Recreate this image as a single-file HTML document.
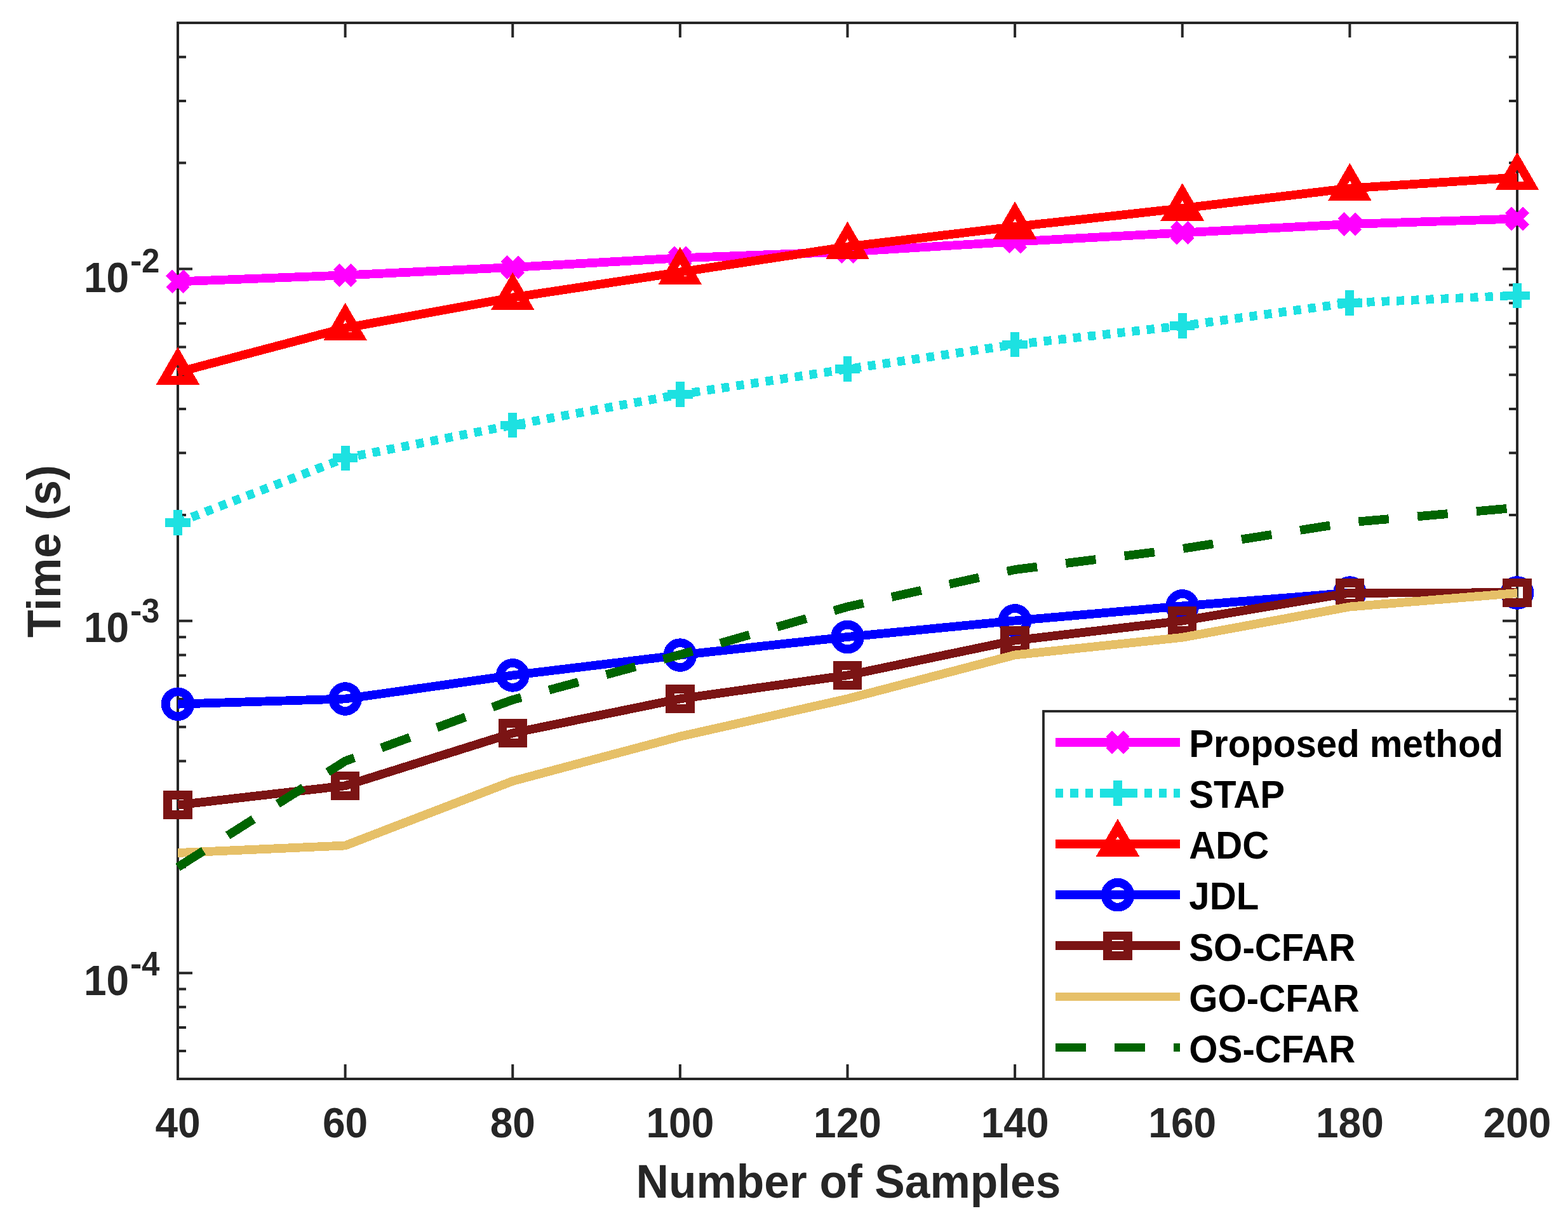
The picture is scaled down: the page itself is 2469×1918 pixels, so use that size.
<!DOCTYPE html><html><head><meta charset="utf-8"><title>Time vs Number of Samples</title><style>html,body{margin:0;padding:0;background:#fff;}svg{display:block;}text{font-family:"Liberation Sans",Arial,Helvetica,sans-serif;font-weight:bold;}</style></head><body>
<svg width="2469" height="1918" viewBox="0 0 2469 1918">
<rect x="0" y="0" width="2469" height="1918" fill="#fff"/>
<path d="M280.00 1699V1676M280.00 36V59M543.62 1699V1676M543.62 36V59M807.25 1699V1676M807.25 36V59M1070.88 1699V1676M1070.88 36V59M1334.50 1699V1676M1334.50 36V59M1598.12 1699V1676M1598.12 36V59M1861.75 1699V1676M1861.75 36V59M2125.38 1699V1676M2125.38 36V59M2389.00 1699V1676M2389.00 36V59M280 1699.00H293M2389 1699.00H2376M280 1655.11H293M2389 1655.11H2376M280 1618.00H293M2389 1618.00H2376M280 1585.85H293M2389 1585.85H2376M280 1557.49H293M2389 1557.49H2376M280 1532.13H303M2389 1532.13H2366M280 1365.26H293M2389 1365.26H2376M280 1267.64H293M2389 1267.64H2376M280 1198.39H293M2389 1198.39H2376M280 1144.67H293M2389 1144.67H2376M280 1100.77H293M2389 1100.77H2376M280 1063.66H293M2389 1063.66H2376M280 1031.52H293M2389 1031.52H2376M280 1003.16H293M2389 1003.16H2376M280 977.80H303M2389 977.80H2366M280 810.92H293M2389 810.92H2376M280 713.31H293M2389 713.31H2376M280 644.05H293M2389 644.05H2376M280 590.33H293M2389 590.33H2376M280 546.44H293M2389 546.44H2376M280 509.33H293M2389 509.33H2376M280 477.18H293M2389 477.18H2376M280 448.83H293M2389 448.83H2376M280 423.46H303M2389 423.46H2366M280 256.59H293M2389 256.59H2376M280 158.98H293M2389 158.98H2376M280 89.72H293M2389 89.72H2376M280 36.00H293M2389 36.00H2376" stroke="#262626" stroke-width="4" fill="none"/>
<rect x="280" y="36" width="2109" height="1663" stroke="#262626" stroke-width="4" fill="none"/>
<text transform="translate(280.00 1790.5) scale(1 1.044)" text-anchor="middle" font-size="64" fill="#262626">40</text>
<text transform="translate(543.62 1790.5) scale(1 1.044)" text-anchor="middle" font-size="64" fill="#262626">60</text>
<text transform="translate(807.25 1790.5) scale(1 1.044)" text-anchor="middle" font-size="64" fill="#262626">80</text>
<text transform="translate(1070.88 1790.5) scale(1 1.044)" text-anchor="middle" font-size="64" fill="#262626">100</text>
<text transform="translate(1334.50 1790.5) scale(1 1.044)" text-anchor="middle" font-size="64" fill="#262626">120</text>
<text transform="translate(1598.12 1790.5) scale(1 1.044)" text-anchor="middle" font-size="64" fill="#262626">140</text>
<text transform="translate(1861.75 1790.5) scale(1 1.044)" text-anchor="middle" font-size="64" fill="#262626">160</text>
<text transform="translate(2125.38 1790.5) scale(1 1.044)" text-anchor="middle" font-size="64" fill="#262626">180</text>
<text transform="translate(2389.00 1790.5) scale(1 1.044)" text-anchor="middle" font-size="64" fill="#262626">200</text>
<text transform="translate(132 459.86) scale(1 1.044)" font-size="64" fill="#262626">10</text>
<text transform="translate(205.1 428.86) scale(1.08 1.044)" font-size="51" fill="#262626">-</text>
<text transform="translate(223.1 428.86) scale(1 1.044)" font-size="51" fill="#262626">2</text>
<text transform="translate(132 1011.00) scale(1 1.044)" font-size="64" fill="#262626">10</text>
<text transform="translate(205.1 980.00) scale(1.08 1.044)" font-size="51" fill="#262626">-</text>
<text transform="translate(223.1 980.00) scale(1 1.044)" font-size="51" fill="#262626">3</text>
<text transform="translate(132 1566.73) scale(1 1.044)" font-size="64" fill="#262626">10</text>
<text transform="translate(205.1 1535.73) scale(1.08 1.044)" font-size="51" fill="#262626">-</text>
<text transform="translate(223.1 1535.73) scale(1 1.044)" font-size="51" fill="#262626">4</text>
<text transform="translate(1001.6 1886.2) scale(1 1.05)" font-size="71.2" fill="#262626">Number of Samples</text>
<text transform="translate(94.9 1004.1) rotate(-90) scale(1 1.05)" font-size="71.2" fill="#262626">Time (s)</text>
<g shape-rendering="crispEdges">
<polyline points="280.00,443.40 543.62,433.40 807.25,421.00 1070.88,406.30 1334.50,396.50 1598.12,380.50 1861.75,366.50 2125.38,353.00 2389.00,344.50" fill="none" stroke="#ff00ff" stroke-width="13.8" stroke-linejoin="miter" stroke-linecap="butt" />
<path d="M266.20 429.60L293.80 457.20M266.20 457.20L293.80 429.60" stroke="#ff00ff" stroke-width="13.8" fill="none"/>
<path d="M529.83 419.60L557.42 447.20M529.83 447.20L557.42 419.60" stroke="#ff00ff" stroke-width="13.8" fill="none"/>
<path d="M793.45 407.20L821.05 434.80M793.45 434.80L821.05 407.20" stroke="#ff00ff" stroke-width="13.8" fill="none"/>
<path d="M1057.08 392.50L1084.67 420.10M1057.08 420.10L1084.67 392.50" stroke="#ff00ff" stroke-width="13.8" fill="none"/>
<path d="M1320.70 382.70L1348.30 410.30M1320.70 410.30L1348.30 382.70" stroke="#ff00ff" stroke-width="13.8" fill="none"/>
<path d="M1584.33 366.70L1611.92 394.30M1584.33 394.30L1611.92 366.70" stroke="#ff00ff" stroke-width="13.8" fill="none"/>
<path d="M1847.95 352.70L1875.55 380.30M1847.95 380.30L1875.55 352.70" stroke="#ff00ff" stroke-width="13.8" fill="none"/>
<path d="M2111.57 339.20L2139.18 366.80M2111.57 366.80L2139.18 339.20" stroke="#ff00ff" stroke-width="13.8" fill="none"/>
<path d="M2375.20 330.70L2402.80 358.30M2375.20 358.30L2402.80 330.70" stroke="#ff00ff" stroke-width="13.8" fill="none"/>
<polyline points="280.00,822.80 543.62,721.30 807.25,669.40 1070.88,621.00 1334.50,581.10 1598.12,542.50 1861.75,513.00 2125.38,477.00 2389.00,465.40" fill="none" stroke="#1de1e1" stroke-width="13.8" stroke-linejoin="miter" stroke-linecap="butt" stroke-dasharray="12.2 11.1"/>
<path d="M260.30 822.80H299.70M280.00 803.10V842.50" stroke="#1de1e1" stroke-width="13.8" fill="none"/>
<path d="M523.92 721.30H563.33M543.62 701.60V741.00" stroke="#1de1e1" stroke-width="13.8" fill="none"/>
<path d="M787.55 669.40H826.95M807.25 649.70V689.10" stroke="#1de1e1" stroke-width="13.8" fill="none"/>
<path d="M1051.17 621.00H1090.58M1070.88 601.30V640.70" stroke="#1de1e1" stroke-width="13.8" fill="none"/>
<path d="M1314.80 581.10H1354.20M1334.50 561.40V600.80" stroke="#1de1e1" stroke-width="13.8" fill="none"/>
<path d="M1578.42 542.50H1617.83M1598.12 522.80V562.20" stroke="#1de1e1" stroke-width="13.8" fill="none"/>
<path d="M1842.05 513.00H1881.45M1861.75 493.30V532.70" stroke="#1de1e1" stroke-width="13.8" fill="none"/>
<path d="M2105.68 477.00H2145.07M2125.38 457.30V496.70" stroke="#1de1e1" stroke-width="13.8" fill="none"/>
<path d="M2369.30 465.40H2408.70M2389.00 445.70V485.10" stroke="#1de1e1" stroke-width="13.8" fill="none"/>
<polyline points="280.00,586.20 543.62,516.50 807.25,468.50 1070.88,428.50 1334.50,388.50 1598.12,357.00 1861.75,328.00 2125.38,296.50 2389.00,279.50" fill="none" stroke="#ff0000" stroke-width="13.8" stroke-linejoin="miter" stroke-linecap="butt" />
<path d="M280.00 560.20L302.52 599.20L257.48 599.20Z" stroke="#ff0000" stroke-width="13.8" fill="none" stroke-linejoin="miter"/>
<path d="M543.62 490.50L566.14 529.50L521.11 529.50Z" stroke="#ff0000" stroke-width="13.8" fill="none" stroke-linejoin="miter"/>
<path d="M807.25 442.50L829.77 481.50L784.73 481.50Z" stroke="#ff0000" stroke-width="13.8" fill="none" stroke-linejoin="miter"/>
<path d="M1070.88 402.50L1093.39 441.50L1048.36 441.50Z" stroke="#ff0000" stroke-width="13.8" fill="none" stroke-linejoin="miter"/>
<path d="M1334.50 362.50L1357.02 401.50L1311.98 401.50Z" stroke="#ff0000" stroke-width="13.8" fill="none" stroke-linejoin="miter"/>
<path d="M1598.12 331.00L1620.64 370.00L1575.61 370.00Z" stroke="#ff0000" stroke-width="13.8" fill="none" stroke-linejoin="miter"/>
<path d="M1861.75 302.00L1884.27 341.00L1839.23 341.00Z" stroke="#ff0000" stroke-width="13.8" fill="none" stroke-linejoin="miter"/>
<path d="M2125.38 270.50L2147.89 309.50L2102.86 309.50Z" stroke="#ff0000" stroke-width="13.8" fill="none" stroke-linejoin="miter"/>
<path d="M2389.00 253.50L2411.52 292.50L2366.48 292.50Z" stroke="#ff0000" stroke-width="13.8" fill="none" stroke-linejoin="miter"/>
<polyline points="280.00,1108.70 543.62,1100.50 807.25,1063.40 1070.88,1031.60 1334.50,1003.00 1598.12,977.40 1861.75,954.40 2125.38,933.60 2389.00,933.50" fill="none" stroke="#0000ff" stroke-width="13.8" stroke-linejoin="miter" stroke-linecap="butt" />
<circle cx="280.00" cy="1108.70" r="19.4" stroke="#0000ff" stroke-width="13.8" fill="none"/>
<circle cx="543.62" cy="1100.50" r="19.4" stroke="#0000ff" stroke-width="13.8" fill="none"/>
<circle cx="807.25" cy="1063.40" r="19.4" stroke="#0000ff" stroke-width="13.8" fill="none"/>
<circle cx="1070.88" cy="1031.60" r="19.4" stroke="#0000ff" stroke-width="13.8" fill="none"/>
<circle cx="1334.50" cy="1003.00" r="19.4" stroke="#0000ff" stroke-width="13.8" fill="none"/>
<circle cx="1598.12" cy="977.40" r="19.4" stroke="#0000ff" stroke-width="13.8" fill="none"/>
<circle cx="1861.75" cy="954.40" r="19.4" stroke="#0000ff" stroke-width="13.8" fill="none"/>
<circle cx="2125.38" cy="933.60" r="19.4" stroke="#0000ff" stroke-width="13.8" fill="none"/>
<circle cx="2389.00" cy="933.50" r="19.4" stroke="#0000ff" stroke-width="13.8" fill="none"/>
<polyline points="280.00,1267.60 543.62,1237.30 807.25,1154.40 1070.88,1100.40 1334.50,1063.40 1598.12,1008.50 1861.75,977.60 2125.38,933.70 2389.00,933.30" fill="none" stroke="#7b1414" stroke-width="13.8" stroke-linejoin="miter" stroke-linecap="butt" />
<rect x="264.25" y="1251.85" width="31.50" height="31.50" stroke="#7b1414" stroke-width="13.8" fill="none"/>
<rect x="527.88" y="1221.55" width="31.50" height="31.50" stroke="#7b1414" stroke-width="13.8" fill="none"/>
<rect x="791.50" y="1138.65" width="31.50" height="31.50" stroke="#7b1414" stroke-width="13.8" fill="none"/>
<rect x="1055.12" y="1084.65" width="31.50" height="31.50" stroke="#7b1414" stroke-width="13.8" fill="none"/>
<rect x="1318.75" y="1047.65" width="31.50" height="31.50" stroke="#7b1414" stroke-width="13.8" fill="none"/>
<rect x="1582.38" y="992.75" width="31.50" height="31.50" stroke="#7b1414" stroke-width="13.8" fill="none"/>
<rect x="1846.00" y="961.85" width="31.50" height="31.50" stroke="#7b1414" stroke-width="13.8" fill="none"/>
<rect x="2109.62" y="917.95" width="31.50" height="31.50" stroke="#7b1414" stroke-width="13.8" fill="none"/>
<rect x="2373.25" y="917.55" width="31.50" height="31.50" stroke="#7b1414" stroke-width="13.8" fill="none"/>
<polyline points="280.00,1343.00 543.62,1331.50 807.25,1230.00 1070.88,1159.70 1334.50,1100.40 1598.12,1031.40 1861.75,1003.80 2125.38,955.50 2389.00,934.00" fill="none" stroke="#e6c068" stroke-width="13.8" stroke-linejoin="miter" stroke-linecap="butt" />
<polyline points="280.00,1365.50 543.62,1198.50 807.25,1102.00 1070.88,1031.00 1334.50,955.50 1598.12,897.00 1861.75,864.00 2125.38,822.60 2389.00,799.50" fill="none" stroke="#006400" stroke-width="13.8" stroke-linejoin="miter" stroke-linecap="butt" stroke-dasharray="47.8 45.37"/>
</g>
<rect x="1643" y="1120" width="746" height="579" fill="#fff" stroke="#262626" stroke-width="3.8"/>
<g shape-rendering="crispEdges"><path d="M1662 1169.00H1858" stroke="#ff00ff" stroke-width="13.8" fill="none" />
<path d="M1746.20 1155.20L1773.80 1182.80M1746.20 1182.80L1773.80 1155.20" stroke="#ff00ff" stroke-width="13.8" fill="none"/>
</g>
<text transform="translate(1872.3 1192.20) scale(1 1.047)" font-size="58.2" fill="#000">Proposed method</text>
<g shape-rendering="crispEdges"><path d="M1662 1249.08H1858" stroke="#1de1e1" stroke-width="13.8" fill="none" stroke-dasharray="12.2 11.1"/>
<path d="M1740.30 1249.08H1779.70M1760.00 1229.38V1268.78" stroke="#1de1e1" stroke-width="13.8" fill="none"/>
</g>
<text transform="translate(1872.3 1272.28) scale(1 1.047)" font-size="58.2" fill="#000">STAP</text>
<g shape-rendering="crispEdges"><path d="M1662 1329.16H1858" stroke="#ff0000" stroke-width="13.8" fill="none" />
<path d="M1760.00 1303.16L1782.52 1342.16L1737.48 1342.16Z" stroke="#ff0000" stroke-width="13.8" fill="none" stroke-linejoin="miter"/>
</g>
<text transform="translate(1872.3 1352.36) scale(1 1.047)" font-size="58.2" fill="#000">ADC</text>
<g shape-rendering="crispEdges"><path d="M1662 1409.24H1858" stroke="#0000ff" stroke-width="13.8" fill="none" />
<circle cx="1760.00" cy="1409.24" r="19.4" stroke="#0000ff" stroke-width="13.8" fill="none"/>
</g>
<text transform="translate(1872.3 1432.44) scale(1 1.047)" font-size="58.2" fill="#000">JDL</text>
<g shape-rendering="crispEdges"><path d="M1662 1489.32H1858" stroke="#7b1414" stroke-width="13.8" fill="none" />
<rect x="1744.25" y="1473.57" width="31.50" height="31.50" stroke="#7b1414" stroke-width="13.8" fill="none"/>
</g>
<text transform="translate(1872.3 1512.52) scale(1 1.047)" font-size="58.2" fill="#000">SO-CFAR</text>
<g shape-rendering="crispEdges"><path d="M1662 1569.40H1858" stroke="#e6c068" stroke-width="13.8" fill="none" />
</g>
<text transform="translate(1872.3 1592.60) scale(1 1.047)" font-size="58.2" fill="#000">GO-CFAR</text>
<g shape-rendering="crispEdges"><path d="M1662 1649.48H1858" stroke="#006400" stroke-width="13.8" fill="none" stroke-dasharray="47.8 45.37"/>
</g>
<text transform="translate(1872.3 1672.68) scale(1 1.047)" font-size="58.2" fill="#000">OS-CFAR</text>
</svg></body></html>
